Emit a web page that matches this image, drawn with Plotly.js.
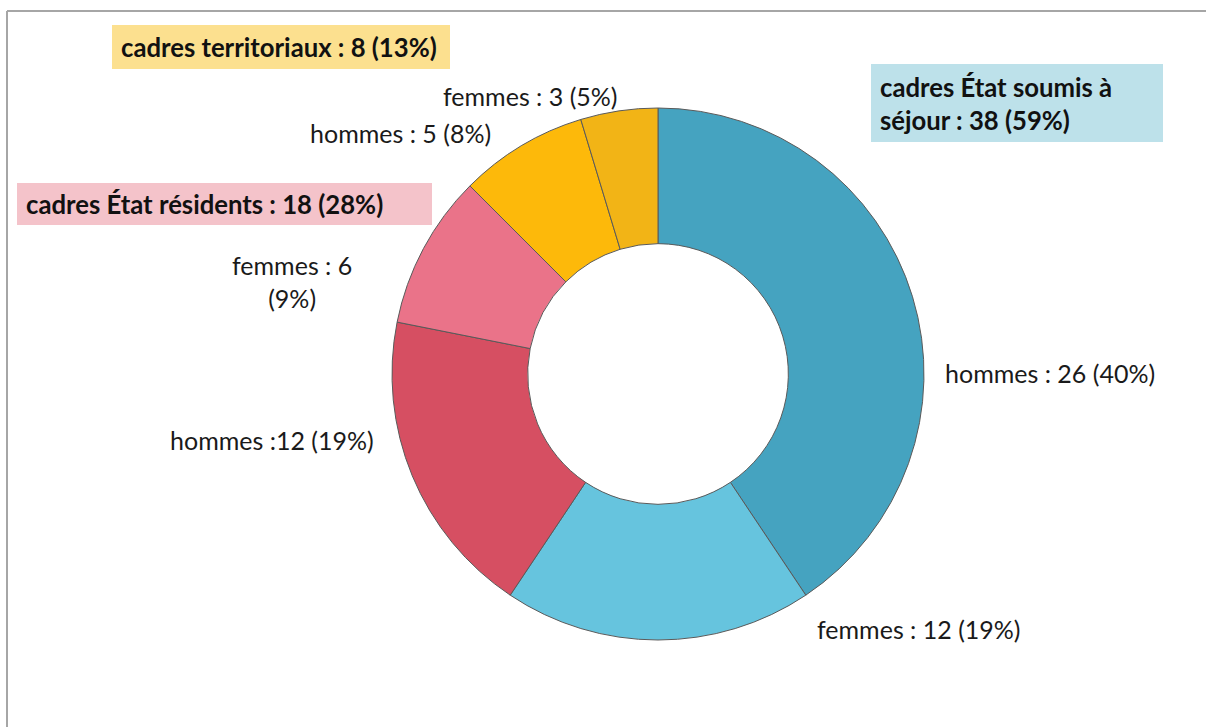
<!DOCTYPE html>
<html>
<head>
<meta charset="utf-8">
<script src="https://cdn.plot.ly/plotly-3.0.1.min.js"></script>
<style>html,body{margin:0;padding:0;background:#fff;}#chart{width:1206px;height:727px;}</style>
</head>
<body>
<div id="chart"></div>
<script>
// Data
const sliceNames = ["hommes (séjour)", "femmes (séjour)", "hommes (résidents)", "femmes (résidents)", "hommes (territoriaux)", "femmes (territoriaux)"];
const sliceValues = [26, 12, 12, 6, 5, 3];
const sliceLabels = ["hommes : 26 (40%)", "femmes : 12 (19%)", "hommes :12 (19%)", "femmes : 6<br>(9%)", "hommes : 5 (8%)", "femmes : 3 (5%)"];
const sliceColors = ["#45A3C0", "#66C4DE", "#D64F62", "#EA7389", "#FDB90A", "#F2B416"];
const groupLabels = ["cadres État soumis à<br>séjour : 38 (59%)", "cadres État résidents : 18 (28%)", "cadres territoriaux : 8 (13%)"];
const groupColors = ["#BDE1EA", "#F4C3CA", "#FCE08F"];

const W = 1206, H = 727;
const px = x => x / W;
const py = y => 1 - y / H;

const trace = {
  type: "pie",
  values: sliceValues,
  labels: sliceNames,
  hole: 0.49,
  sort: false,
  direction: "clockwise",
  rotation: 0,
  textinfo: "none",
  hoverinfo: "label+value+percent",
  marker: { colors: sliceColors, line: { color: "#5a5a5a", width: 1 } },
  domain: { x: [px(392), px(924)], y: [py(640), py(108)] },
  showlegend: false
};

const font = "Lato, 'Open Sans', sans-serif";
const labelPos = [
  [1050, 373],
  [919, 629],
  [272, 440],
  [292, 281],
  [400, 133],
  [530, 96]
];
const annotations = sliceLabels.map((t, i) => ({
  xref: "paper", yref: "paper",
  x: px(labelPos[i][0]), y: py(labelPos[i][1]),
  xanchor: "center", yanchor: "middle",
  text: t, showarrow: false, align: "center",
  font: { family: font, size: 25, color: "#1a1a1a" }
}));

const boxes = [
  { x0: 871, y0: 64, x1: 1163, y1: 142 },
  { x0: 17, y0: 183, x1: 432, y1: 225 },
  { x0: 112, y0: 25, x1: 450, y1: 69 }
];
const shapes = [
  { type: "line", xref: "paper", yref: "paper", x0: px(7), x1: px(7), y0: py(11), y1: -0.05, line: { color: "#A6A6A6", width: 2 } },
  { type: "line", xref: "paper", yref: "paper", x0: px(7), x1: 1, y0: py(11), y1: py(11), line: { color: "#A6A6A6", width: 2 } }
];
groupLabels.forEach((t, i) => {
  const b = boxes[i];
  shapes.push({
    type: "rect", xref: "paper", yref: "paper", layer: "below",
    x0: px(b.x0), x1: px(b.x1), y0: py(b.y1), y1: py(b.y0),
    fillcolor: groupColors[i], line: { width: 0 }
  });
  annotations.push({
    xref: "paper", yref: "paper",
    x: px(b.x0 + 7), y: py((b.y0 + b.y1) / 2),
    xanchor: "left", yanchor: "middle",
    text: "<b>" + t + "</b>", showarrow: false, align: "left",
    font: { family: font, size: 25.7, color: "#111" }
  });
});

const layout = {
  width: W, height: H,
  margin: { l: 0, r: 0, t: 0, b: 0 },
  paper_bgcolor: "#ffffff",
  annotations: annotations,
  shapes: shapes
};

Plotly.newPlot("chart", [trace], layout, { displayModeBar: false, staticPlot: true });
</script>
</body>
</html>
